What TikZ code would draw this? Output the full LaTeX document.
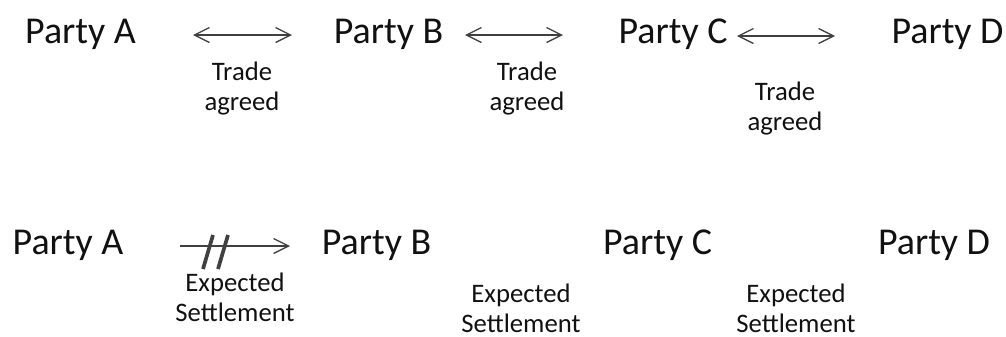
\documentclass[tikz,border=0pt]{standalone}
\usepackage{fontspec}
\setmainfont{Carlito}
\usepackage{tikz}
\usetikzlibrary{arrows.meta}
\usepackage{xcolor}
\definecolor{arrowgray}{HTML}{404040}
\definecolor{textblack}{HTML}{111111}

\tikzset{
	party/.style={anchor=base, inner sep=0pt, text=textblack, font=\fontsize{21.6}{26}\selectfont},
	note/.style={anchor=base, inner sep=0pt, align=center, text=textblack, font=\fontsize{15.2}{16.7}\selectfont},
	trade/.style={draw=arrowgray, line width=0.75pt, {Straight Barb[length=3mm,width=3mm]}-{Straight Barb[length=3mm,width=3mm]}},
	settle/.style={draw=arrowgray, line width=0.75pt, -{Straight Barb[length=3mm,width=3mm]}},
	cut/.style={draw=arrowgray, line width=2.1pt}
}

\begin{document}
\begin{tikzpicture}[x=0.02cm, y=-0.02cm]
	\useasboundingbox (0,0) rectangle (1006,336);
	% trade agreed
	\node (a1) [party] at (80.5, 43) {Party A};
	\node (b1) [party] at (388.5, 43) {Party B};
	\node (c1) [party] at (673, 43) {Party C};
	\node (d1) [party] at (947.5, 43) {Party D};
	\coordinate (ab1s) at (193, 35);
	\coordinate (ab1e) at (292, 35);
	\coordinate (bc1s) at (465, 35);
	\coordinate (bc1e) at (563, 35);
	\coordinate (cd1s) at (737, 36);
	\coordinate (cd1e) at (835, 36);
	\draw[trade] (ab1s) -- (ab1e);
	\draw[trade] (bc1s) -- (bc1e);
	\draw[trade] (cd1s) -- (cd1e);
	\node (ab1t) [note] at (242, 110) {Trade\\agreed};
	\node (bc1t) [note] at (527, 110) {Trade\\agreed};
	\node (cd1t) [note] at (785, 130) {Trade\\agreed};

	% expected settlement
	\node (a2) [party] at (68, 254) {Party A};
	\node (b2) [party] at (376.5, 254) {Party B};
	\node (c2) [party] at (657.5, 254) {Party C};
	\node (d2) [party] at (934, 254) {Party D};
	\coordinate (ab2s) at (180, 246);
	\coordinate (ab2e) at (290, 246);
	\draw[settle] (ab2s) -- (ab2e);
	\coordinate (cut1s) at (213, 235);
	\coordinate (cut1e) at (203, 269);
	\coordinate (cut2s) at (228, 235);
	\coordinate (cut2e) at (218, 269);
	\draw[cut] (cut1s) -- (cut1e);
	\draw[cut] (cut2s) -- (cut2e);
	\node (ab2t) [note] at (235, 321) {Expected\\Settlement};
	\node (bc2t) [note] at (521, 332) {Expected\\Settlement};
	\node (cd2t) [note] at (796, 332) {Expected\\Settlement};
\end{tikzpicture}
\end{document}
